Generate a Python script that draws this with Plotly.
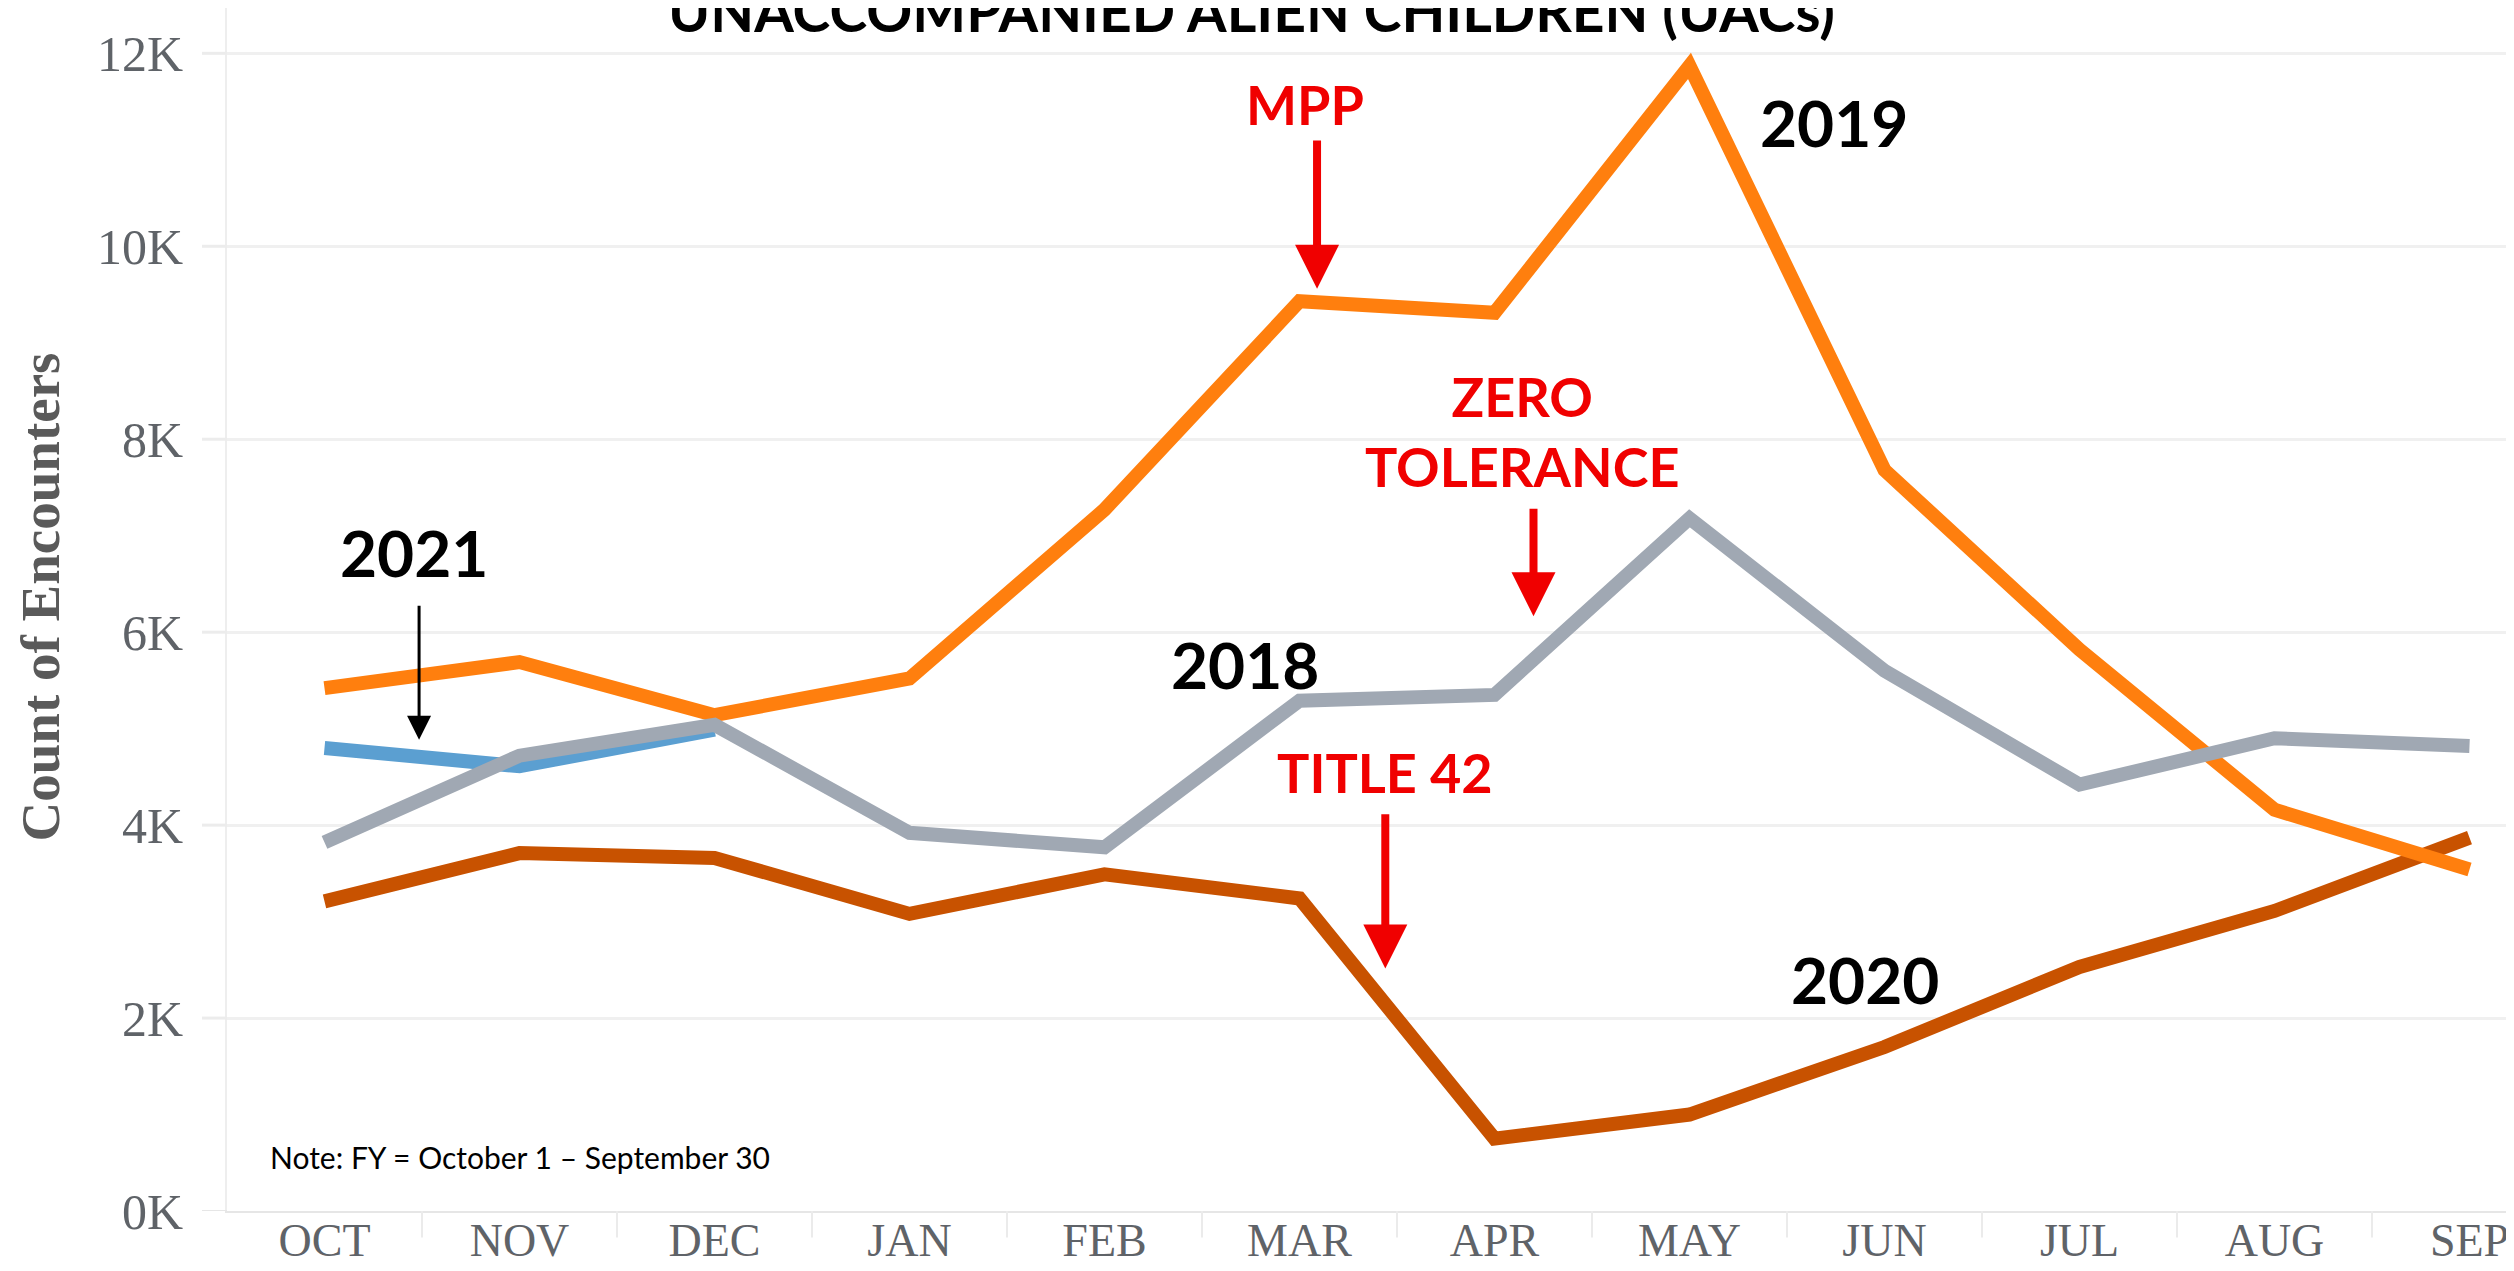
import plotly.graph_objects as go

months = ["OCT", "NOV", "DEC", "JAN", "FEB", "MAR", "APR", "MAY", "JUN", "JUL", "AUG", "SEP"]

fy2018 = [3820, 4720, 5040, 3920, 3770, 5290, 5350, 7180, 5600, 4420, 4900, 4820]
fy2019 = [5420, 5690, 5140, 5520, 7270, 9430, 9310, 11870, 7680, 5820, 4160, 3540]
fy2020 = [3210, 3710, 3660, 3080, 3490, 3240, 750, 1000, 1700, 2530, 3110, 3870]
fy2021 = [4800, 4610, 4990]

y_ticks = [0, 2000, 4000, 6000, 8000, 10000, 12000]
y_tick_text = ["0K", "2K", "4K", "6K", "8K", "10K", "12K"]

W, H = 2514, 1271
ML, MB = 219, 68
PW = W - ML
BAND = 195.0

fig = go.Figure()
fig.add_trace(go.Scatter(x=months, y=fy2020, mode="lines", name="2020",
                         line=dict(color="#C85200", width=14)))
fig.add_trace(go.Scatter(x=months, y=fy2019, mode="lines", name="2019",
                         line=dict(color="#FF7F0E", width=14)))
fig.add_trace(go.Scatter(x=months[:len(fy2021)], y=fy2021, mode="lines", name="2021",
                         line=dict(color="#5B9FD1", width=14)))
fig.add_trace(go.Scatter(x=months, y=fy2018, mode="lines", name="2018",
                         line=dict(color="#A0A8B3", width=14)))

cal = "Lato"
red = "#F00000"
anns = [
    dict(x=0.457, y=6829, text="<b>2021</b>", font=dict(family=cal, size=64, color="black")),
    dict(x=4.72, y=5670, text="<b>2018</b>", font=dict(family=cal, size=64, color="black")),
    dict(x=7.74, y=11278, text="<b>2019</b>", font=dict(family=cal, size=64, color="black")),
    dict(x=7.90, y=2400, text="<b>2020</b>", font=dict(family=cal, size=64, color="black")),
    dict(x=5.03, y=11474, text="<b>MPP</b>", font=dict(family=cal, size=54, color=red)),
    dict(x=6.14, y=8080, text="<b>ZERO<br>TOLERANCE</b>", font=dict(family=cal, size=54, color=red)),
    dict(x=5.44, y=4542, text="<b>TITLE 42</b>", font=dict(family=cal, size=54, color=red)),
    dict(x=-0.29, y=559, text="Note: FY = October 1 \u2013 September 30", xanchor="left",
         font=dict(family=cal, size=30, color="black")),
]
annotations = []
for a in anns:
    d = dict(xref="x", yref="y", showarrow=False)
    d.update(a)
    annotations.append(d)

# arrows: x, tip value, tail value, colour, width, head size
arrows = [
    (5.09, 9560, 11112, red, 8, 1.1),
    (6.20, 6166, 7294, red, 8, 1.1),
    (5.44, 2514, 4128, red, 8, 1.1),
    (0.485, 4884, 6290, "black", 3, 1.6),
]
for x, ytip, ytail, col, w, s in arrows:
    annotations.append(dict(xref="x", yref="y", x=x, y=ytip, ax=x, ay=ytail,
                            axref="x", ayref="y", text="", showarrow=True,
                            arrowhead=2, arrowwidth=w, arrowsize=s, arrowcolor=col))

annotations.append(dict(xref="paper", yref="paper", x=(1243 - ML) / PW, y=1, yanchor="middle", yshift=-2,
                        text="<b>UNACCOMPANIED ALIEN CHILDREN (UACs)</b>", showarrow=False,
                        font=dict(family=cal, size=57, color="black")))
annotations.append(dict(xref="paper", yref="paper", x=0, y=0.51, xshift=32 - ML,
                        xanchor="center", yanchor="middle",
                        text="<b>Count of Encounters</b>", textangle=-90, showarrow=False,
                        font=dict(family="Liberation Serif", size=55, color="#5a5a5a")))

shapes = []
# month separators below the axis
for i in range(len(months) - 1):
    shapes.append(dict(type="line", xref="x", yref="paper", x0=i + 0.5, x1=i + 0.5,
                       y0=0, y1=-0.022, line=dict(color="#EBEBEB", width=2)))
# gridline stubs extending left of the plot
for v in y_ticks:
    shapes.append(dict(type="line", xref="paper", yref="y", x0=-25 / PW, x1=0, y0=v, y1=v,
                       line=dict(color="#ECECEC" if v else "#E6E6E6", width=3 if v else 2)))

fig.update_layout(
    width=W, height=H,
    margin=dict(l=ML, r=0, t=0, b=MB, autoexpand=False),
    paper_bgcolor="white", plot_bgcolor="white",
    showlegend=False,
    annotations=annotations,
    shapes=shapes,
    xaxis=dict(type="category", range=[-0.5, PW / BAND - 0.5], showgrid=False,
               automargin=False,
               showline=True, linecolor="#E6E6E6", linewidth=2,
               ticks="", ticklen=0, ticklabelstandoff=-12,
               tickfont=dict(family="Liberation Serif", size=46, color="#5f6368")),
    yaxis=dict(range=[0, 12470], tickvals=y_ticks, ticktext=y_tick_text,
               automargin=False,
               showgrid=True, gridcolor="#F0F0F0", gridwidth=3, zeroline=False,
               showline=True, linecolor="#EEEEEE", linewidth=2,
               ticks="", ticklabelstandoff=32,
               tickfont=dict(family="Liberation Serif", size=50, color="#5f6368")),
)

fig.write_html("out.html")
